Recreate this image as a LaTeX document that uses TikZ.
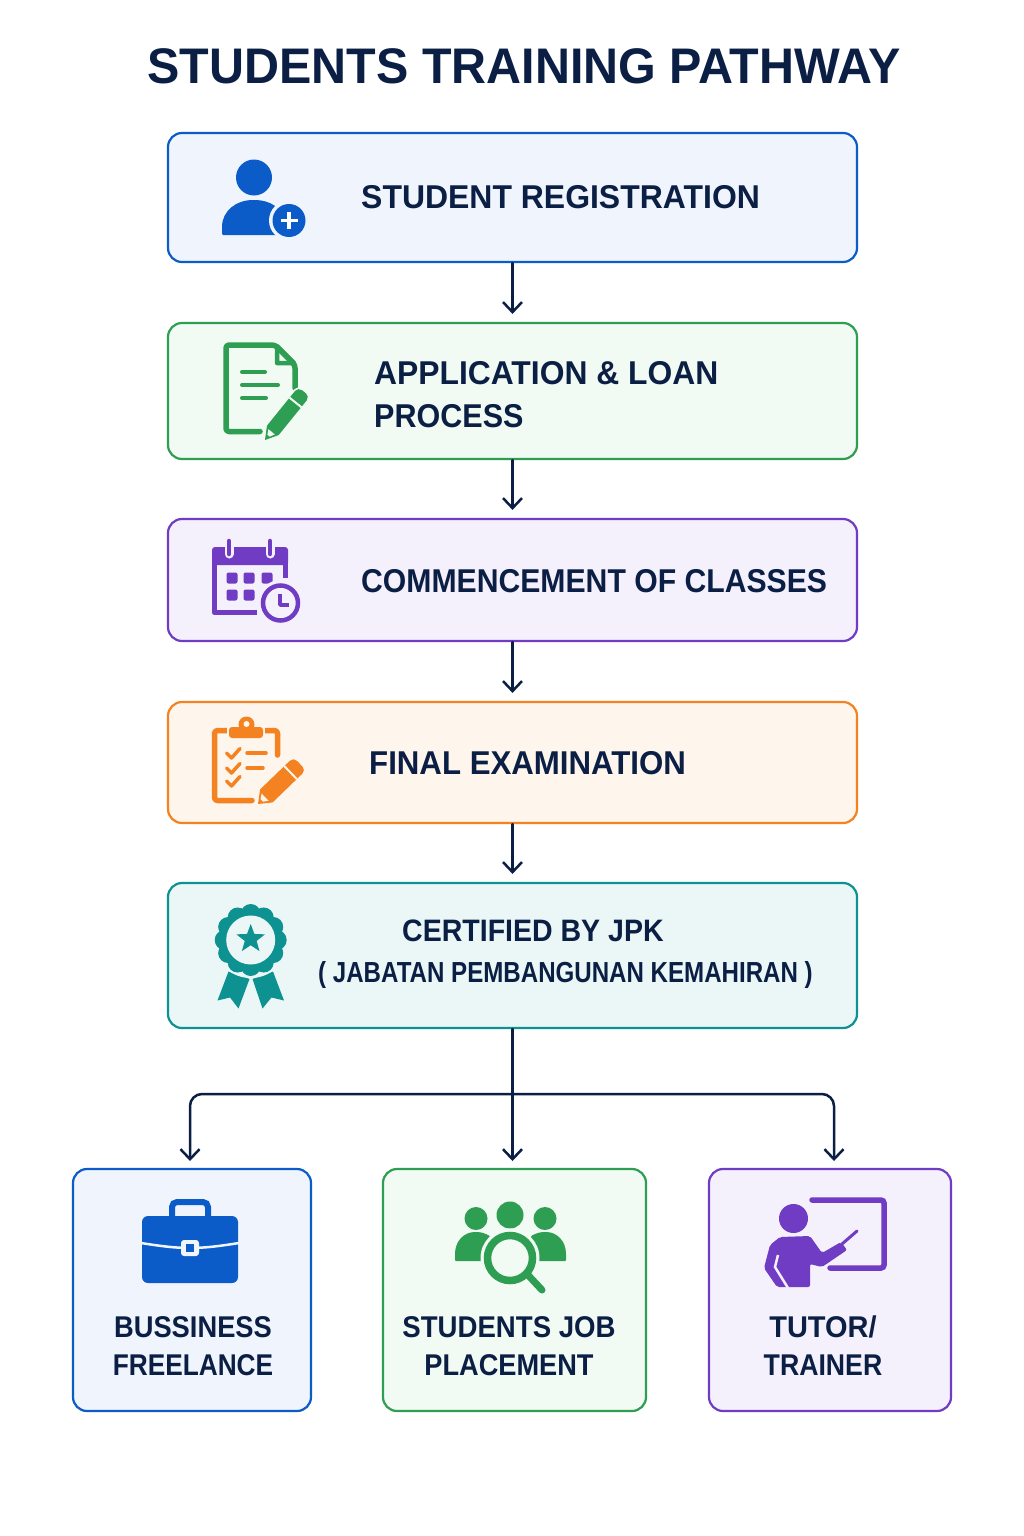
\documentclass[tikz,border=0pt]{standalone}
\usepackage{fontspec}
\usepackage{graphicx}
\setmainfont{Liberation Sans}
\newfontfamily\narrowfont[FakeStretch=0.85]{Liberation Sans}
\usetikzlibrary{arrows.meta, shapes.geometric}

\definecolor{navy}{HTML}{0B1F45}
\definecolor{blueline}{HTML}{0B5CC9}
\definecolor{bluefill}{HTML}{F0F5FD}
\definecolor{greenline}{HTML}{2E9E52}
\definecolor{greenfill}{HTML}{F1FAF3}
\definecolor{purpleline}{HTML}{6F3CC3}
\definecolor{purplefill}{HTML}{F5F1FC}
\definecolor{orangeline}{HTML}{F58220}
\definecolor{orangefill}{HTML}{FEF5EC}
\definecolor{tealline}{HTML}{0E9191}
\definecolor{tealfill}{HTML}{EBF7F7}

\newcommand{\squeeze}[2]{\scalebox{#1}[1]{#2}}

\tikzset{
  card/.style 2 args={draw=#1, fill=#2, line width=2.2, rounded corners=14, inner sep=0},
  label/.style={text=navy, inner sep=0, font=\bfseries\fontsize{33}{43}\selectfont},
  smalllabel/.style={label, align=center, font=\bfseries\fontsize{30}{38}\selectfont},
  flow/.style={draw=navy, line width=2.5, line cap=round, -{Straight Barb[length=10pt,width=19pt]}, shorten >=8pt},
  pics/pencil/.style n args={4}{code={
    \path[fill=#3, preaction={draw=#4, line width=3.5}] (0,0) -- (#1*0.2,#2) -- (#1-5,#2) arc[start angle=90,end angle=0,radius=5] -- (#1,5-#2)
      arc[start angle=0,end angle=-90,radius=5] -- (#1*0.2,-#2) -- cycle;
    \fill[#4] (#1*0.09,#2*0.2) -- (#1*0.17,#2*0.55) -- (#1*0.17,-#2*0.55) -- (#1*0.09,-#2*0.2) -- cycle;
    \draw[#4, line width=2] (#1*0.78,#2) -- (#1*0.78,-#2);
  }}
}

\begin{document}
\begin{tikzpicture}[x=1pt,y=-1pt]
\useasboundingbox (0,0) rectangle (1024,1536);
\fill[white] (0,0) rectangle (1024,1536);

\node[text=navy, font=\bfseries\fontsize{50}{50}\selectfont] (title) at (524,66) {\squeeze{.969}{STUDENTS TRAINING PATHWAY}};

% main boxes
\node[card={blueline}{bluefill}, minimum width=689, minimum height=129] (reg) at (512.5,197.5) {};
\node[card={greenline}{greenfill}, minimum width=689, minimum height=136] (app) at (512.5,391) {};
\node[card={purpleline}{purplefill}, minimum width=689, minimum height=122] (comm) at (512.5,580) {};
\node[card={orangeline}{orangefill}, minimum width=689, minimum height=121] (exam) at (512.5,762.5) {};
\node[card={tealline}{tealfill}, minimum width=689, minimum height=145] (cert) at (512.5,955.5) {};

% bottom boxes
\node[card={blueline}{bluefill}, minimum width=238, minimum height=242] (biz) at (192,1290) {};
\node[card={greenline}{greenfill}, minimum width=263, minimum height=242] (job) at (514.5,1290) {};
\node[card={purpleline}{purplefill}, minimum width=242, minimum height=242] (tutor) at (830,1290) {};

% labels
\node[label, anchor=west] (regtext) at (361,197) {\squeeze{.968}{STUDENT REGISTRATION}};
\node[label, anchor=west, align=left] (apptext) at (374,395) {\squeeze{.964}{APPLICATION \& LOAN}\\\squeeze{.925}{PROCESS}};
\node[label, anchor=west] (commtext) at (361,581) {\squeeze{.914}{COMMENCEMENT OF CLASSES}};
\node[label, anchor=west] (examtext) at (369,763) {\squeeze{.946}{FINAL EXAMINATION}};
\node[label, anchor=west, font=\bfseries\fontsize{31}{43}\selectfont] (certtext) at (402,931) {\squeeze{.92}{CERTIFIED BY JPK}};
\node[label, anchor=west, font=\narrowfont\bfseries\fontsize{29}{34}\selectfont] (jpktext) at (318,975) {\squeeze{.978}{( JABATAN PEMBANGUNAN KEMAHIRAN )}};
\node[smalllabel] (biztext) at (193,1346) {\squeeze{.91}{BUSSINESS}\\\squeeze{.875}{FREELANCE}};
\node[smalllabel] (jobtext) at (509,1346) {\squeeze{.92}{STUDENTS JOB}\\\squeeze{.906}{PLACEMENT}};
\node[smalllabel] (tutortext) at (823,1346) {\squeeze{.965}{TUTOR/}\\\squeeze{.889}{TRAINER}};

% connectors
\coordinate (split) at (512.5,1094);
\coordinate (bizin) at (190,1169);
\coordinate (jobin) at (512.5,1169);
\coordinate (tutorin) at (834,1169);
\draw[flow] (reg) -- (app);
\draw[flow] (app) -- (comm);
\draw[flow] (comm) -- (exam);
\draw[flow] (exam) -- (cert);
\draw[flow] (cert.south) -- (jobin);
\draw[flow, rounded corners=12] (split) -| (bizin);
\draw[flow, rounded corners=12] (split) -| (tutorin);

% person icon
\fill[blueline] (254,177.5) circle[radius=18];
\fill[blueline, rounded corners=1] (222,235) -- (222,228) .. controls (222,211) and (236,200) .. (254,200)
  .. controls (270,200) and (282,208) .. (286,222) -- (286,235) -- cycle;
\fill[bluefill] (289,220.5) circle[radius=20];
\fill[blueline] (289,220.5) circle[radius=16.5];
\draw[white, line width=3.5] (280.5,220.5) -- (297.5,220.5) (289,212) -- (289,229);

% document icon
\draw[greenline, line width=5.5, line join=round, line cap=round, rounded corners=3] (260,431.5) -- (226,431.5) -- (226,345) -- (275,345) -- (295,365) -- (295,388);
\draw[greenline, line width=4.5, line join=round] (277,346) -- (277,363) -- (294,363) -- cycle;
\draw[greenline, line width=4, line cap=round] (242,372) -- (265,372) (242,385) -- (278,385) (242,398) -- (266,398);
\pic[rotate=51] at (265,440) {pencil={62}{7.5}{greenline}{greenfill}};

% calendar icon
\draw[purpleline, line width=5.5, line join=round] (257,612.5) -- (214.5,612.5) -- (214.5,560) (285.5,560) -- (285.5,578);
\fill[purpleline, rounded corners=3] (212,565) -- (212,547) -- (288,547) -- (288,565) -- cycle;
\foreach \ringx in {229,270} {
  \draw[purplefill, line width=9, line cap=round] (\ringx,541) -- (\ringx,554);
  \draw[purpleline, line width=4.5, line cap=round] (\ringx,541) -- (\ringx,554);
}
\foreach \dayx/\dayy in {232/578, 249/578, 267/578, 232/595, 249/595} {
  \fill[purpleline, rounded corners=2] (\dayx-5.5,\dayy-5.5) rectangle (\dayx+5.5,\dayy+5.5);
}
\fill[purplefill] (280.5,603) circle[radius=23];
\draw[purpleline, line width=4.5] (280.5,603) circle[radius=17.5];
\draw[purpleline, line width=3.5, line join=round] (280,594) -- (280,605) -- (289,605);

% clipboard icon
\draw[orangeline, line width=5.5, line join=round, line cap=round, rounded corners=3] (252,800.5) -- (214.5,800.5) -- (214.5,730.5) -- (277.5,730.5) -- (277.5,755);
\fill[orangefill] (227,725) rectangle (265,742);
\fill[orangeline, rounded corners=3] (229,727) rectangle (263,738);
\fill[orangeline] (246.5,724.5) circle[radius=8];
\fill[orangefill] (246.5,724) circle[radius=3];
\foreach \rowy in {0,15,28} {
  \draw[orangeline, line width=3.5, line cap=round, line join=round] (226.5,753+\rowy) -- (231.5,758+\rowy) -- (240,748.5+\rowy);
}
\draw[orangeline, line width=3.5, line cap=round] (247,753) -- (266,753) (247,768) -- (263,768);
\pic[rotate=44] at (258,804) {pencil={58}{9}{orangeline}{orangefill}};

% medal icon
\fill[tealline] (228.5,971.5) -- (249.5,979) -- (238.5,1008.5) -- (230,997.5) -- (217.5,1000.5) -- cycle;
\fill[tealline] (273,971.5) -- (252.5,979) -- (262.5,1008.5) -- (271.5,997.5) -- (284,1000.5) -- cycle;
\fill[tealfill] (250.7,940) circle[radius=38];
\fill[tealline] (250.7,940) circle[radius=32];
\foreach \bump in {0,30,...,330} {
  \fill[tealline] (250.7,940) ++(\bump:26) circle[radius=10];
}
\fill[tealfill] (250.7,940) circle[radius=24.5];
\node[star, star points=5, star point ratio=2.4, fill=tealline, inner sep=0, minimum size=30] (medalstar) at (250.7,939) {};

% briefcase icon
\draw[blueline, line width=6, rounded corners=5] (172,1218) -- (172,1202) -- (208,1202) -- (208,1218);
\fill[blueline, rounded corners=6] (142,1216) rectangle (238,1283);
\draw[bluefill, line width=2.5] (141,1243) .. controls (160,1246) and (175,1248) .. (190,1248) .. controls (205,1248) and (220,1246) .. (239,1243);
\fill[bluefill, rounded corners=3] (181,1240) rectangle (199,1256);
\fill[blueline] (186,1244) rectangle (194,1252);

% group icon
\fill[greenline] (476,1218.5) circle[radius=11.5];
\fill[greenline] (510,1215) circle[radius=13.5];
\fill[greenline] (545,1218.5) circle[radius=11.5];
\fill[greenline, rounded corners=1] (455,1261) -- (455,1255) .. controls (455,1241) and (464,1232) .. (476,1232) .. controls (482,1232) and (486,1234) .. (490,1236) -- (490,1261) -- cycle;
\fill[greenline, rounded corners=1] (566,1261) -- (566,1255) .. controls (566,1241) and (557,1232) .. (545,1232) .. controls (539,1232) and (535,1234) .. (531,1236) -- (531,1261) -- cycle;
\fill[greenfill] (510,1258) circle[radius=29.5];
\draw[greenline, line width=7.5] (510,1258) circle[radius=22.5];
\draw[greenline, line width=7, line cap=round] (528,1275) -- (542,1290);

% trainer icon
\fill[purpleline] (793.5,1218.5) circle[radius=14.5];
\draw[purpleline, line width=5.5, line cap=round, rounded corners=3] (812,1200) -- (884,1200) -- (884,1268) -- (830,1268);
\fill[purpleline, rounded corners=2] (780,1237) -- (810,1236) -- (822,1253) -- (841,1242) -- (847,1250) -- (822,1267) -- (810,1264) -- (810,1287) -- (777,1287) -- (764,1268) -- (770,1245) -- cycle;
\draw[purplefill, line width=2.5] (778,1255) -- (775,1267) -- (788,1288);
\draw[purpleline, line width=3, line cap=round] (842,1244) -- (857,1231);
\end{tikzpicture}
\end{document}
